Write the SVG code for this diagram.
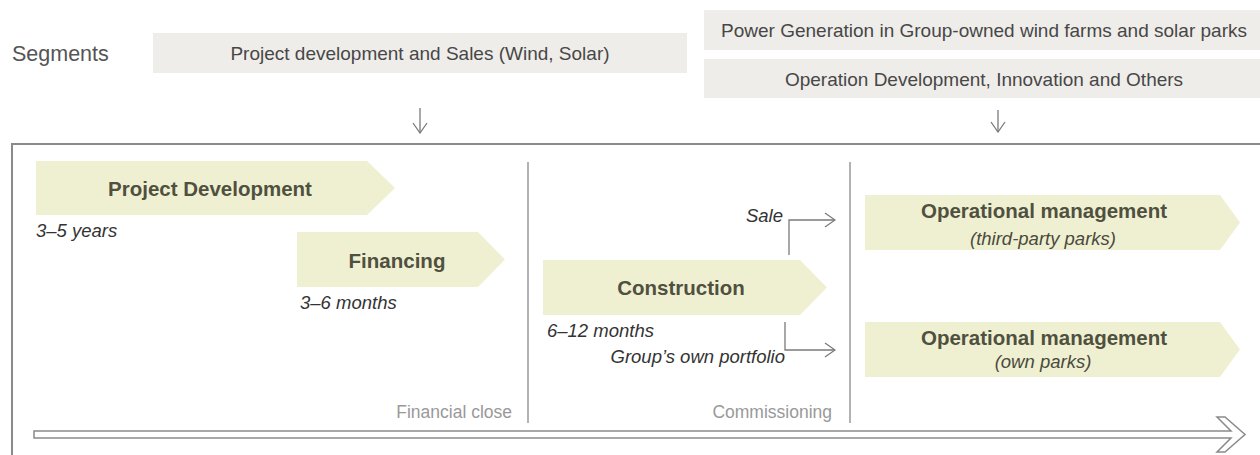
<svg xmlns="http://www.w3.org/2000/svg" width="1260" height="455" viewBox="0 0 1260 455">
<defs>
<style>
text{font-family:"Liberation Sans",Arial,sans-serif;}
.seg{fill:#efedea;}
.segt{font-size:19px;fill:#474747;text-anchor:middle;}
.lbl{font-size:21.5px;fill:#555;}
.step{fill:#eff0d2;}
.stept{font-size:20.5px;font-weight:bold;fill:#50503f;text-anchor:middle;}
.sub{font-size:18.5px;font-style:italic;fill:#4a4a3c;text-anchor:middle;}
.dur{font-size:18.5px;font-style:italic;fill:#333;}
.mile{font-size:17.5px;fill:#999;text-anchor:end;}
.ln{fill:none;stroke:#7a7a7a;stroke-width:1.3;}
.frame{fill:none;stroke:#8a8a8a;stroke-width:2;}
.div{stroke:#999;stroke-width:1.5;}
</style>
<marker id="open" viewBox="0 0 12 16" refX="11" refY="8" markerWidth="12" markerHeight="16" markerUnits="userSpaceOnUse" orient="auto">
<path d="M1,1 L11,8 L1,15" fill="none" stroke="#7a7a7a" stroke-width="1.3"/>
</marker>
</defs>
<rect width="1260" height="455" fill="#fff"/>

<g id="segments-label"><text class="lbl" x="12" y="61">Segments</text></g>
<g id="seg-project"><rect class="seg" x="153" y="33" width="534" height="40"/><text class="segt" x="420" y="60">Project development and Sales (Wind, Solar)</text></g>
<g id="seg-power"><rect class="seg" x="704" y="10" width="556" height="40"/><text class="segt" x="984" y="37">Power Generation in Group-owned wind farms and solar parks</text></g>
<g id="seg-operation"><rect class="seg" x="704" y="59" width="556" height="39"/><text class="segt" x="984" y="86">Operation Development, Innovation and Others</text></g>

<g id="frame">
<path class="frame" d="M12,455 V144 H1260"/>
<line class="div" x1="528" y1="162" x2="528" y2="423"/>
<line class="div" x1="850" y1="162" x2="850" y2="423"/>
<text class="mile" x="512" y="418">Financial close</text>
<text class="mile" x="832" y="418">Commissioning</text>
</g>

<g id="timeline">
<polygon points="34,431 1231,431 1217,417 1225,417 1245,434.5 1225,452 1217,452 1231,438 34,438" fill="#fff" stroke="#8a8a8a" stroke-width="1.5" stroke-linejoin="miter"/>
</g>

<g id="project-development">
<polygon class="step" points="36,161 367,161 395,188 367,215 36,215"/>
<text class="stept" x="210" y="196">Project Development</text>
<text class="dur" x="36" y="237">3–5 years</text>
</g>
<g id="financing">
<polygon class="step" points="297,232 478,232 505,259.5 478,287 297,287"/>
<text class="stept" x="397" y="268">Financing</text>
<text class="dur" x="300" y="309">3–6 months</text>
</g>
<g id="construction">
<polygon class="step" points="543,260 800,260 827,287.5 800,315 543,315"/>
<text class="stept" x="681" y="295">Construction</text>
<text class="dur" x="547" y="337">6–12 months</text>
</g>
<g id="op-third">
<polygon class="step" points="865,195 1220,195 1240,222.5 1220,250 865,250"/>
<text class="stept" x="1044" y="218">Operational management</text>
<text class="sub" x="1043" y="245">(third-party parks)</text>
</g>
<g id="op-own">
<polygon class="step" points="865,322 1220,322 1240,349.5 1220,377 865,377"/>
<text class="stept" x="1044" y="345">Operational management</text>
<text class="sub" x="1043" y="368">(own parks)</text>
</g>

<g id="connectors">
<line class="ln" x1="420" y1="108" x2="420" y2="133" marker-end="url(#open)"/>
<line class="ln" x1="998" y1="110" x2="998" y2="132" marker-end="url(#open)"/>
<path class="ln" d="M789,255 V220 H835" marker-end="url(#open)"/>
<path class="ln" d="M785,322 V350 H835" marker-end="url(#open)"/>
<text class="dur" x="783" y="222" text-anchor="end">Sale</text>
<text class="dur" x="785" y="363" text-anchor="end">Group’s own portfolio</text>
</g>
</svg>
